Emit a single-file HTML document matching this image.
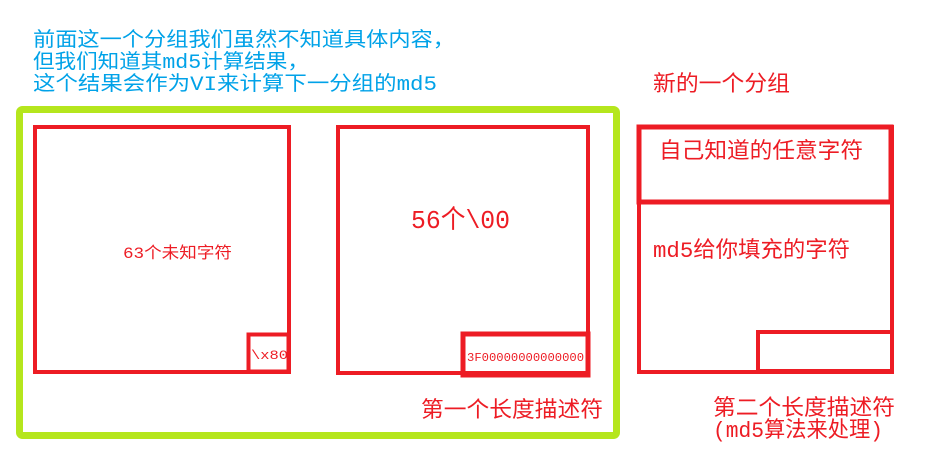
<!DOCTYPE html>
<html><head><meta charset="utf-8"><style>
html,body{margin:0;padding:0;background:#fff;width:940px;height:453px;overflow:hidden}
text{font-family:"Liberation Mono","Noto Sans CJK SC",monospace}
</style></head><body>
<svg width="940" height="453" viewBox="0 0 940 453" xmlns="http://www.w3.org/2000/svg">
<g fill="#00a2e8" font-size="20">
<text x="33" y="46" textLength="422" lengthAdjust="spacingAndGlyphs">前面这一个分组我们虽然不知道具体内容，</text>
<text x="33" y="68" textLength="276" lengthAdjust="spacingAndGlyphs">但我们知道其md5计算结果，</text>
<text x="33" y="90" textLength="404" lengthAdjust="spacingAndGlyphs">这个结果会作为VI来计算下一分组的md5</text>
</g>
<rect x="19.5" y="109.5" width="597" height="326" fill="none" stroke="#b5e61d" stroke-width="7" rx="3"/>
<g fill="none" stroke="#ed1c24">
<rect x="35" y="127" width="254" height="245" stroke-width="4"/>
<rect x="248.5" y="334.5" width="40" height="37" stroke-width="4"/>
<rect x="338" y="127" width="250" height="246" stroke-width="4"/>
<rect x="463" y="334" width="125" height="41" stroke-width="5"/>
<rect x="639" y="127" width="253" height="245" stroke-width="4"/>
<rect x="639" y="127" width="252" height="75" stroke-width="5"/>
<rect x="758" y="332" width="134" height="39" stroke-width="4"/>
</g>
<g fill="#ed1c24" lengthAdjust="spacingAndGlyphs">
<text x="123" y="258" font-size="16" textLength="109" lengthAdjust="spacingAndGlyphs">63个未知字符</text>
<text x="251" y="359" font-size="13" textLength="37" lengthAdjust="spacingAndGlyphs">\x80</text>
<text x="411" y="228" font-size="26" textLength="99" lengthAdjust="spacingAndGlyphs">56个\00</text>
<text x="467" y="361" font-size="12" textLength="117" lengthAdjust="spacingAndGlyphs">3F00000000000000</text>
<text x="421" y="417" font-size="22" textLength="182" lengthAdjust="spacingAndGlyphs">第一个长度描述符</text>
<text x="653" y="91" font-size="22" textLength="137" lengthAdjust="spacingAndGlyphs">新的一个分组</text>
<text x="659" y="158" font-size="22" textLength="204" lengthAdjust="spacingAndGlyphs">自己知道的任意字符</text>
<text x="653" y="257" font-size="22" textLength="197" lengthAdjust="spacingAndGlyphs">md5给你填充的字符</text>
<text x="713" y="415" font-size="22" textLength="182" lengthAdjust="spacingAndGlyphs">第二个长度描述符</text>
<text x="713" y="437" font-size="22" textLength="170" lengthAdjust="spacingAndGlyphs">(md5算法来处理)</text>
</g>
</svg>
</body></html>
